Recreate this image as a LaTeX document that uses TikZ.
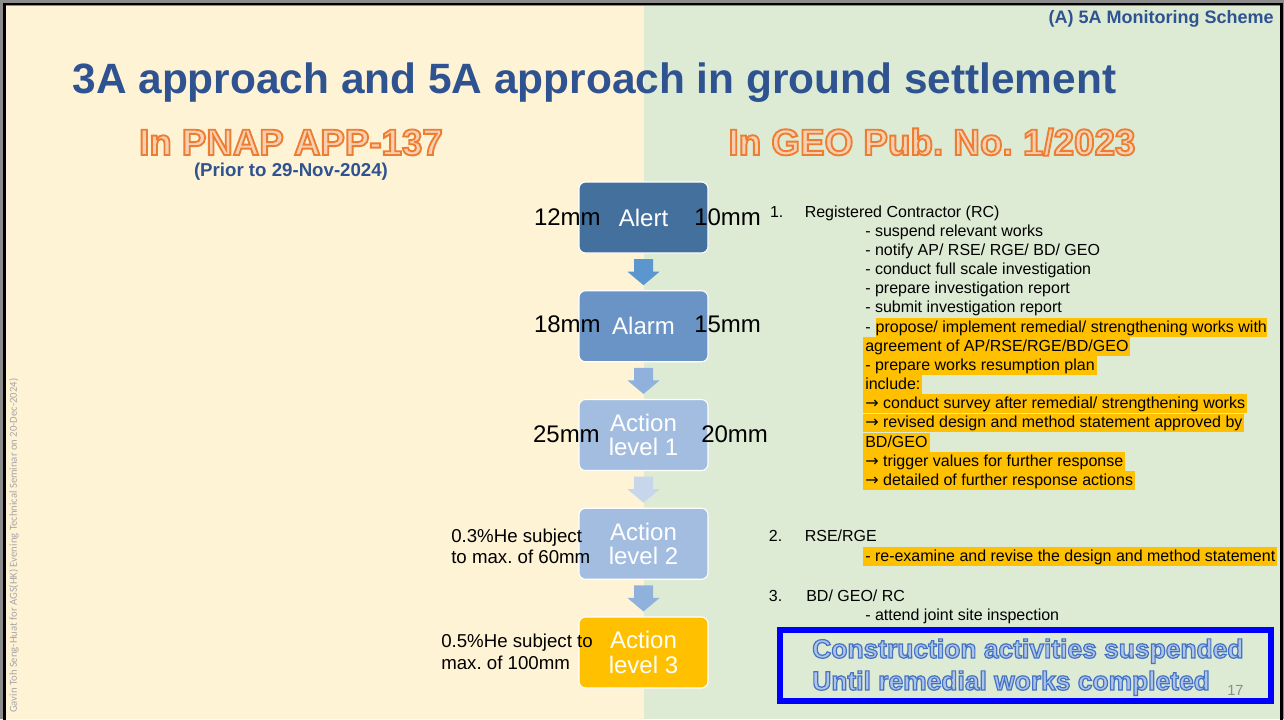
\documentclass[tikz,border=0pt]{standalone}
\usepackage{fontspec}
\setmainfont{Liberation Sans}
\newfontfamily\notefont{Carlito}
\newfontfamily\arrowfont{DejaVu Sans}
\usetikzlibrary{calc}
\frenchspacing

\definecolor{frame}{HTML}{8C8C8C}
\definecolor{cream}{HTML}{FFF3D6}
\definecolor{mint}{HTML}{DDEBD4}
\definecolor{titleblue}{HTML}{2F5391}
\definecolor{ofill}{HTML}{F9CFB2}
\definecolor{lvlA}{HTML}{44709D}
\definecolor{lvlB}{HTML}{6A94C5}
\definecolor{lvlC}{HTML}{A3BDE1}
\definecolor{lvlD}{HTML}{FFC000}
\definecolor{arrA}{HTML}{5B96CE}
\definecolor{arrB}{HTML}{8FB1DC}
\definecolor{arrC}{HTML}{C7D6EB}
\definecolor{hlc}{HTML}{FFC000}
\definecolor{bfill}{HTML}{AFC4E9}
\definecolor{pagegray}{HTML}{8C8C8C}
\definecolor{sidegray}{HTML}{A6A6A6}

\newcommand\fsz[2]{\fontsize{#1}{#2}\selectfont}
% outlined lettering: fill colour #1, stroke colour #2 (as r g b), stroke width #3
\newcommand\outlined[4]{{\color{#1}\special{pdf:code 2 Tr #3 w #2 RG}#4\special{pdf:code 0 Tr}}}
\newcommand\orangeword[1]{\outlined{ofill}{0.929 0.490 0.192}{1.4}{#1}}
\newcommand\blueword[1]{\outlined{bfill}{0.267 0.447 0.769}{0.9}{#1}}
\newcommand\then{{\arrowfont →}}

% block arrow pointing down from the bottom of one box to the top of the next
\newcommand\downblock[3]{%
  \fill[#1] ($(#2.south)+(-9.5,5.5)$) -- ($(#2.south)+(9.5,5.5)$)
    -- ($(#3.north)+(9.5,-18.5)$) -- ($(#3.north)+(16,-18.5)$)
    -- ($(#3.north)+(0,-5)$) -- ($(#3.north)+(-16,-18.5)$)
    -- ($(#3.north)+(-9.5,-18.5)$) -- cycle;}

\tikzset{
  lvl/.style={rounded corners=5pt, draw=white, line width=0.8pt,
    minimum width=96.75pt, minimum height=53.25pt, inner sep=0pt,
    text=white, align=center, font=\fsz{18}{18.5}},
  side/.style={inner sep=0pt, font=\fsz{18}{21}},
  crit/.style={inner sep=0pt, anchor=base west, font=\fsz{14}{16}},
  li/.style={anchor=base west, inner sep=0pt, font=\fsz{12}{14.4},
    text height=10.6pt, text depth=3.4pt},
  hl/.style={li, fill=hlc, inner xsep=1.5pt},
  notice/.style={anchor=base west, inner sep=0pt, font=\fsz{19.8}{23}\bfseries},
}

\begin{document}
\begin{tikzpicture}[x=0.75pt, y=-0.75pt]
\useasboundingbox (0,0) rectangle (1284,719);

% slide background and frame
\fill[frame] (0,0) rectangle (1284,719);
\fill[cream] (6,5.5) rectangle (643.5,719);
\fill[mint] (643.5,5.5) rectangle (1280.5,719);
\draw[black, line width=2pt] (4.5,725) -- (4.5,4) -- (1281.5,4) -- (1281.5,725);

% headings
\node[anchor=base east, inner sep=0pt, text=titleblue, font=\fsz{13.5}{16}\bfseries] (tag) at (1274,23) {(A) 5A Monitoring Scheme};
\node[anchor=base, inner sep=0pt, text=titleblue, font=\fsz{31.8}{38}\bfseries] (title) at (594.4,93.3) {3A approach and 5A approach in ground settlement};
\node[anchor=base, inner sep=0pt, font=\fsz{27.5}{32}\bfseries] (pnap) at (291,155) {\orangeword{In PNAP APP-137}};
\node[anchor=base, inner sep=0pt, font=\fsz{27.6}{33}\bfseries] (geo) at (932,155) {\orangeword{In GEO Pub. No. 1/2023}};
\node[anchor=base, inner sep=0pt, text=titleblue, font=\fsz{14}{16}\bfseries] (prior) at (291,176) {(Prior to 29-Nov-2024)};

% response levels
\node[lvl, fill=lvlA] (alert) at (643.5,217.5) {Alert};
\node[lvl, fill=lvlB] (alarm) at (643.5,326.25) {Alarm};
\node[lvl, fill=lvlC] (act1) at (643.5,435) {Action\\level 1};
\node[lvl, fill=lvlC] (act2) at (643.5,543.75) {Action\\level 2};
\node[lvl, fill=lvlD] (act3) at (643.5,652.5) {Action\\level 3};

\downblock{arrA}{alert}{alarm}
\downblock{arrB}{alarm}{act1}
\downblock{arrC}{act1}{act2}
\downblock{arrB}{act2}{act3}

% trigger values
\node[side, anchor=base east] (l1) at (601,225) {12mm};
\node[side, anchor=base west] (r1) at (694,225) {10mm};
\node[side, anchor=base east] (l2) at (601,332) {18mm};
\node[side, anchor=base west] (r2) at (694,332) {15mm};
\node[side, anchor=base east] (l3) at (600,442) {25mm};
\node[side, anchor=base west] (r3) at (701,442) {20mm};
\node[crit] (l4a) at (451,542) {0.3\%He subject};
\node[crit] (l4b) at (451,563) {to max. of 60mm};
\node[crit] (l5a) at (441,647) {0.5\%He subject to};
\node[crit] (l5b) at (441,669) {max. of 100mm};

% actions under GEO Pub. No. 1/2023
\node[li] (n1) at (769.8,217) {1.};
\node[li] (p0) at (804.5,217) {Registered Contractor (RC)};
\node[li] (p1) at (865,236.2) {- suspend relevant works};
\node[li] (p2) at (865,255.3) {- notify AP/ RSE/ RGE/ BD/ GEO};
\node[li] (p3) at (865,274.5) {- conduct full scale investigation};
\node[li] (p4) at (865,293.6) {- prepare investigation report};
\node[li] (p5) at (865,312.8) {- submit investigation report};
\node[li] (p6d) at (865,332) {-};
\node[hl, inner xsep=0pt] (p6) at ($(p6d.base east)+(4.5,0)$) {propose/ implement remedial/ strengthening works with\hspace{3pt}};
\node[hl] (p7) at (863,351.1) {agreement of AP/RSE/RGE/BD/GEO};
\node[hl] (p8) at (863,370.3) {- prepare works resumption plan};
\node[hl] (p9) at (863,389.4) {include:};
\node[hl] (p10) at (863,408.6) {\then\ conduct survey after remedial/ strengthening works};
\node[hl] (p11) at (863,427.8) {\then\ revised design and method statement approved by\hspace{2pt}};
\node[hl] (p12) at (863,447) {BD/GEO};
\node[hl] (p13) at (863,466.1) {\then\ trigger values for further response};
\node[hl] (p14) at (863,485.2) {\then\ detailed of further response actions};

\node[li] (n2) at (768.7,541) {2.};
\node[li] (q0) at (804.5,541) {RSE/RGE};
\node[hl] (q1) at (863,561.5) {- re-examine and revise the design and method statement};

\node[li] (n3) at (768.7,601) {3.};
\node[li] (s0) at (806,601) {BD/ GEO/ RC};
\node[li] (s1) at (865,620) {- attend joint site inspection};

% suspension notice
\node[draw=blue, line width=4.5pt, minimum width=367.9pt, minimum height=53.25pt, inner sep=0pt] (stop) at (1025.3,665.8) {};
\node[notice] (stop1) at (812,658) {\blueword{Construction activities suspended}};
\node[notice] (stop2) at (812,690) {\blueword{Until remedial works completed}};

% page number and side credit
\node[anchor=base west, inner sep=0pt, text=pagegray, font=\fsz{11}{13}] (page) at (1227,695) {17};
\node[anchor=west, rotate=90, inner sep=0pt, text=sidegray, font=\notefont\fsz{8}{9.5}] (credit) at (14,713) {Gavin Toh Seng-Huat for AGS(HK) Evening Technical Seminar on 20-Dec-2024)};
\end{tikzpicture}
\end{document}
